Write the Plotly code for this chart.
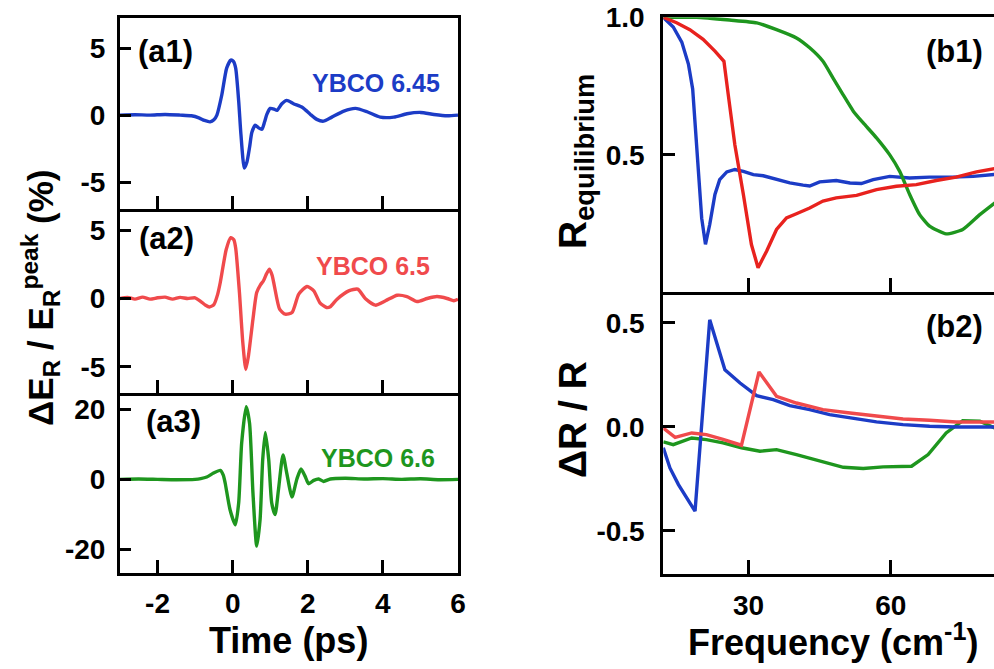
import plotly.graph_objects as go

# ---------------- data ----------------
# (a1) YBCO 6.45 time trace
a1_t = [-3.0, -2.6, -2.2, -1.8, -1.4, -1.1, -0.9, -0.75, -0.6, -0.5, -0.42, -0.29, -0.16, -0.05, 0.02, 0.08,
        0.16, 0.22, 0.31, 0.38, 0.45, 0.51, 0.6, 0.69, 0.78, 0.85, 0.91, 1.0, 1.1, 1.18, 1.31, 1.44, 1.62,
        1.84, 1.95, 2.07, 2.24, 2.42, 2.64, 2.96, 3.27, 3.58, 3.93, 4.29, 4.64, 5.0, 5.36, 5.71, 6.0]
a1_v = [0.0, 0.03, 0.0, 0.05, 0.0, -0.05, -0.2, -0.4, -0.5, -0.35, 0.0, 1.5, 3.5, 4.1, 4.0, 3.5,
        1.05, -1.44, -3.95, -3.5, -2.4, -1.3, -0.75, -0.95, -1.05, -0.5, 0.05, 0.5, 0.45, 0.35, 0.85, 1.1, 0.85,
        0.6, 0.35, 0.05, -0.32, -0.45, -0.15, 0.3, 0.5, 0.25, -0.15, -0.15, 0.1, 0.2, 0.05, -0.05, 0.0]

# (a2) YBCO 6.5 time trace
a2_t = [-3.0, -2.8, -2.6, -2.4, -2.2, -2.0, -1.8, -1.6, -1.4, -1.2, -1.0, -0.87, -0.72, -0.62, -0.5, -0.4,
        -0.33, -0.17, -0.05, 0.03, 0.08, 0.18, 0.27, 0.35, 0.42, 0.54, 0.64, 0.74, 0.82, 0.9, 0.98, 1.05,
        1.11, 1.25, 1.4, 1.58, 1.76, 1.98, 2.16, 2.33, 2.5, 2.6, 2.78, 3.09, 3.33, 3.53, 3.8, 4.07, 4.38,
        4.64, 4.91, 5.18, 5.44, 5.71, 5.89, 6.0]
a2_v = [0.0, 0.08, -0.05, 0.1, -0.05, 0.05, 0.1, -0.05, 0.08, 0.0, 0.05, -0.17, -0.5, -0.62, -0.45, 0.3,
        1.17, 3.6, 4.45, 4.3, 3.7, 0.44, -3.23, -5.2, -4.2, -1.52, 0.44, 1.0, 1.3, 1.8, 2.15, 1.7,
        0.93, -0.78, -1.15, -1.03, 0.32, 0.88, 0.56, -0.34, -0.66, -0.6, -0.05, 0.56, 0.68, 0.0, -0.49, -0.17, 0.24,
        0.14, -0.22, 0.0, 0.14, 0.0, -0.17, -0.05]

# (a3) YBCO 6.6 time trace
a3_t = [-3.0, -2.5, -2.0, -1.5, -1.0, -0.85, -0.69, -0.51, -0.33, -0.25, -0.2, -0.07, 0.07, 0.16, 0.24,
        0.36, 0.45, 0.54, 0.64, 0.73, 0.8, 0.87, 0.96, 1.04, 1.13, 1.22, 1.34, 1.44, 1.58, 1.71, 1.82,
        1.93, 2.02, 2.16, 2.29, 2.42, 2.6, 3.0, 3.5, 4.0, 4.5, 5.0, 5.5, 6.0]
a3_v = [0.0, 0.1, 0.0, -0.1, 0.0, 0.2, 0.65, 1.8, 2.56, 1.2, -1.05, -8.7, -13.0, -6.75, 10.4,
        20.8, 16.0, -3.9, -19.1, -11.5, 5.6, 13.4, 5.6, -6.75, -10.1, -2.95, 7.0, 1.8, -5.05, 0.1, 2.94,
        0.85, -1.25, -0.3, 0.1, -0.6, 0.1, 0.3, 0.1, 0.2, 0.0, 0.15, -0.1, 0.0]

# (b1) equilibrium reflectivity
b1_blue_f = [12, 14.1, 15.9, 17.3, 18.2, 18.7, 19.4, 20.1, 20.9, 21.8, 22.9, 23.9, 25.4, 27.1, 28.9, 31,
             33.1, 35.9, 38.7, 41.5, 42.9, 45, 48.5, 51.4, 53.8, 56.3, 59.8, 64, 68.2, 73.1, 77.4, 82]
b1_blue_r = [1.0, 0.965, 0.91, 0.83, 0.74, 0.62, 0.42, 0.27, 0.175, 0.247, 0.356, 0.41, 0.438, 0.447, 0.44, 0.428,
             0.424, 0.41, 0.398, 0.39, 0.387, 0.402, 0.407, 0.398, 0.396, 0.41, 0.422, 0.416, 0.419, 0.419, 0.422, 0.429]
b1_red_f = [12, 14.8, 17.6, 20.4, 22.9, 24.8, 25.7, 27.1, 28.9, 30.6, 32, 33.8, 35.9, 38, 40.1, 42.9,
            45.7, 48.5, 52.8, 57, 61.2, 65.4, 69.6, 73.8, 78.1, 82]
b1_red_r = [1.0, 0.98, 0.955, 0.92, 0.877, 0.84, 0.72, 0.537, 0.356, 0.174, 0.09, 0.15, 0.229, 0.271, 0.286, 0.307,
            0.332, 0.344, 0.353, 0.374, 0.386, 0.392, 0.407, 0.419, 0.438, 0.45]
b1_green_f = [12, 19, 26, 31.7, 35.9, 40.1, 42.9, 45.7, 47.8, 49.9, 52.1, 54.2, 57, 59.8, 61.9, 64,
              66.1, 68.2, 71.7, 75.2, 78.8, 82]
b1_green_r = [1.0, 1.0, 0.99, 0.98, 0.955, 0.925, 0.889, 0.84, 0.78, 0.72, 0.659, 0.616, 0.562, 0.50, 0.44, 0.356,
              0.283, 0.241, 0.213, 0.229, 0.283, 0.326]

# (b2) photo-induced change
b2_blue_f = [12, 13.4, 15.2, 18.7, 20.1, 21.8, 25, 28.2, 31.7, 35.2, 38.7, 42.9, 47.1, 51.4, 57, 62.6, 68.2, 73.8, 82]
b2_blue_d = [-0.10, -0.197, -0.277, -0.405, 0.011, 0.515, 0.275, 0.211, 0.15, 0.131, 0.102, 0.083, 0.059, 0.043,
             0.024, 0.011, 0.003, 0.0, 0.0]
b2_red_f = [12, 14.5, 18, 21.1, 24.6, 28.5, 32.2, 35.9, 40.1, 45.7, 51.4, 57, 62.6, 68.2, 73.8, 82]
b2_red_d = [-0.005, -0.05, -0.029, -0.037, -0.06, -0.088, 0.264, 0.147, 0.115, 0.083, 0.067, 0.051, 0.038,
            0.032, 0.024, 0.024]
b2_green_f = [12, 14.1, 18, 21.1, 24.6, 28.5, 32.4, 35.9, 40.1, 45, 50, 54.2, 58.4, 64.4, 67.9, 71.7, 75.2, 78.8, 82]
b2_green_d = [-0.072, -0.085, -0.053, -0.061, -0.077, -0.10, -0.117, -0.109, -0.133, -0.165, -0.194, -0.2,
              -0.192, -0.189, -0.133, -0.029, 0.03, 0.027, -0.005]

# tick labels
time_ticks = [-2, 0, 2, 4, 6]
time_ticktext = ["-2", "0", "2", "4", "6"]
a12_ticks = [5, 0, -5]
a12_ticktext = ["5", "0", "-5"]
a3_ticks = [20, 0, -20]
a3_ticktext = ["20", "0", "-20"]
freq_ticks = [30, 60, 90]
freq_ticktext = ["30", "60", "90"]
b1_ticks = [1.0, 0.5]
b1_ticktext = ["1.0", "0.5"]
b2_ticks = [0.5, 0.0, -0.5]
b2_ticktext = ["0.5", "0.0", "-0.5"]

# ---------------- style ----------------
W, H = 994, 669
FONT = "Liberation Sans, Arial, sans-serif"
BLUE = "#1c3cc6"
RED = "#e8221e"
LRED = "#f04a4c"
GREEN = "#1e961e"


def px(x):
    return x / W


def py(y):
    return 1 - y / H


fig = go.Figure()

def add(x, y, color, xa, ya, shape="spline", smooth=0.6):
    fig.add_trace(go.Scatter(x=x, y=y, mode="lines", xaxis=xa, yaxis=ya,
                             line=dict(color=color, width=3.4, shape=shape,
                                       smoothing=smooth if shape == "spline" else None),
                             hoverinfo="skip"))

add(a1_t, a1_v, BLUE, "x", "y")
add(a2_t, a2_v, LRED, "x2", "y2")
add(a3_t, a3_v, GREEN, "x3", "y3")
add(b1_blue_f, b1_blue_r, BLUE, "x4", "y4", "linear")
add(b1_green_f, b1_green_r, GREEN, "x4", "y4", "spline", 0.5)
add(b1_red_f, b1_red_r, RED, "x4", "y4", "linear")
add(b2_green_f, b2_green_d, GREEN, "x5", "y5", "linear")
add(b2_blue_f, b2_blue_d, BLUE, "x5", "y5", "linear")
add(b2_red_f, b2_red_d, LRED, "x5", "y5", "linear")

tickfont = dict(family=FONT, size=28, color="black", weight="bold")
common = dict(showgrid=False, zeroline=False, showline=True, linecolor="black", linewidth=3,
              ticks="inside", tickwidth=3, tickcolor="black", tickfont=tickfont)

left_dom = [px(120), px(458)]
right_dom = [px(663.3), 1.0]
a1_dom = [py(209), py(18)]
a2_dom = [py(393.3), py(209)]
a3_dom = [py(572.7), py(393.3)]
b1_dom = [py(291.5), py(17.3)]
b2_dom = [py(574), py(291.5)]

layout = dict(
    width=W, height=H, margin=dict(l=0, r=0, t=0, b=0, autoexpand=False),
    paper_bgcolor="white", plot_bgcolor="white", showlegend=False,
    xaxis=dict(domain=left_dom, anchor="y", range=[-3, 6], tickvals=time_ticks, ticktext=time_ticktext,
               showticklabels=False, mirror=True, ticklen=13, **common),
    yaxis=dict(domain=a1_dom, anchor="x", range=[-7.0, 7.24], tickvals=a12_ticks, ticktext=a12_ticktext,
               mirror=True, ticklen=11, ticklabelstandoff=6, **common),
    xaxis2=dict(domain=left_dom, anchor="y2", range=[-3, 6], tickvals=time_ticks, ticktext=time_ticktext,
                showticklabels=False, mirror=False, ticklen=13, **common),
    yaxis2=dict(domain=a2_dom, anchor="x2", range=[-6.94, 6.55], tickvals=a12_ticks, ticktext=a12_ticktext,
                mirror=True, ticklen=11, ticklabelstandoff=6, **common),
    xaxis3=dict(domain=left_dom, anchor="y3", range=[-3, 6], tickvals=time_ticks, ticktext=time_ticktext,
                mirror=False, ticklen=13, ticklabelstandoff=4, **common),
    yaxis3=dict(domain=a3_dom, anchor="x3", range=[-26.7, 24.6], tickvals=a3_ticks, ticktext=a3_ticktext,
                mirror=True, ticklen=11, ticklabelstandoff=6, **common),
    xaxis4=dict(domain=right_dom, anchor="y4", range=[12, 81.8], tickvals=freq_ticks, ticktext=freq_ticktext,
                showticklabels=False, mirror=True, ticklen=14, **common),
    yaxis4=dict(domain=b1_dom, anchor="x4", range=[0.0035, 1.0], tickvals=b1_ticks, ticktext=b1_ticktext,
                mirror=False, ticklen=12, ticklabelstandoff=10, **common),
    xaxis5=dict(domain=right_dom, anchor="y5", range=[12, 81.8], tickvals=freq_ticks, ticktext=freq_ticktext,
                mirror=False, ticklen=14, ticklabelstandoff=4, **common),
    yaxis5=dict(domain=b2_dom, anchor="x5", range=[-0.707, 0.651], tickvals=b2_ticks, ticktext=b2_ticktext,
                mirror=False, ticklen=12, ticklabelstandoff=10, **common),
)
fig.update_layout(**layout)


def ann(text, x, y, size, color="black", angle=0):
    fig.add_annotation(text=text, x=px(x), y=py(y), xref="paper", yref="paper",
                       xanchor="center", yanchor="middle", showarrow=False, textangle=angle,
                       font=dict(family=FONT, size=size, color=color, weight="bold"))

ann("(a1)", 165, 51, 31)
ann("(a2)", 166, 238, 31)
ann("(a3)", 173, 421, 31)
ann("(b1)", 954, 52, 31)
ann("(b2)", 954, 326, 31)
ann("YBCO 6.45", 376, 83, 25, BLUE)
ann("YBCO 6.5", 373, 266, 25, LRED)
ann("YBCO 6.6", 378, 458, 25, GREEN)
ann("Time (ps)", 288.5, 640, 36)
ann("Frequency (cm<sup>-1</sup>)", 833, 640, 36)
ann("ΔE<sub>R</sub> / E<sub>R</sub><sup>peak</sup> (%)", 40, 298, 35, angle=-90)
ann("R<sub>equilibrium</sub>", 575, 162, 39, angle=-90)
ann("ΔR / R", 572, 420, 39, angle=-90)

fig.write_html("out.html", config={"displayModeBar": False},
               post_script="document.body.style.margin='0';document.body.style.padding='0';"
                           "document.body.style.overflow='hidden';")
